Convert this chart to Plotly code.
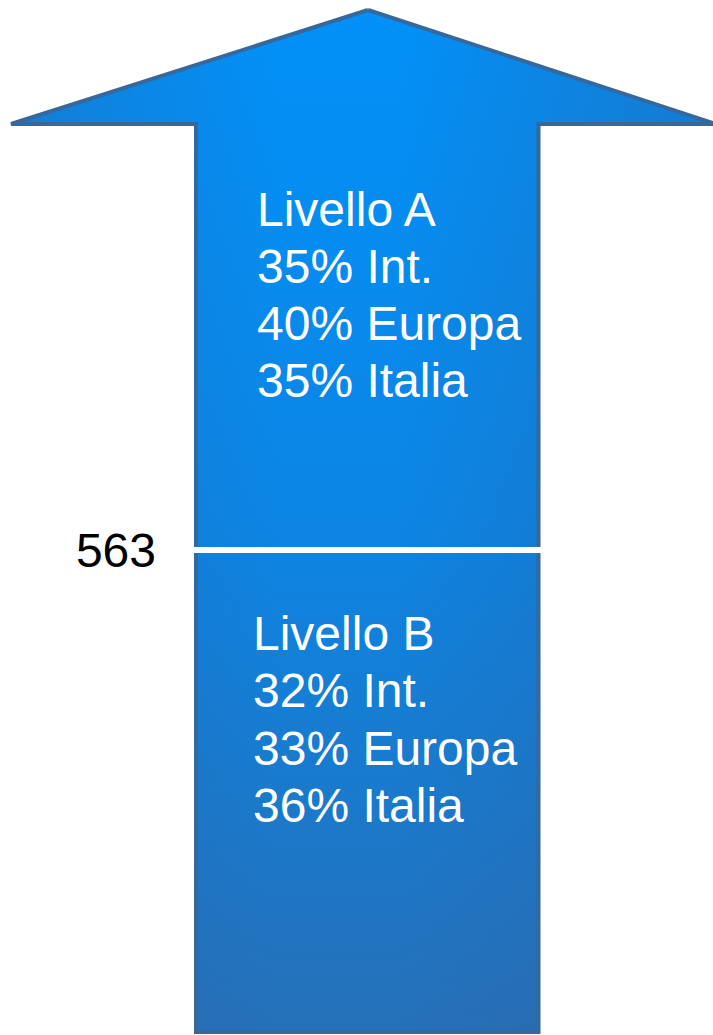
import plotly.graph_objects as go

# ---- data ----
levels = ["Livello A", "Livello B"]
regions = ["Int.", "Europa", "Italia"]
shares_A = [35, 40, 35]
shares_B = [32, 33, 36]
threshold = 563

W, H = 713, 1035
FONT = "Liberation Sans, Arial, sans-serif"

# arrow geometry (pixel space)
tip = (368, 10)
head_y = 124
head_l, head_r = 11, 716
shaft_l, shaft_r = 196, 538.5
bottom = 1032
ax = [tip[0], head_r, shaft_r, shaft_r, shaft_l, shaft_l, head_l, tip[0]]
ay = [tip[1], head_y, head_y, bottom, bottom, head_y, head_y, tip[1]]
divider_y = 550

fig = go.Figure()

# base vertical gradient
fig.add_trace(go.Scatter(
    x=ax, y=ay, mode="lines", fill="toself", line=dict(width=0),
    fillgradient=dict(type="vertical",
                      colorscale=[[0, "#0291f8"], [0.5, "#0c85e4"], [1, "#2670b8"]],
                      start=10, stop=1032),
    hoverinfo="skip", showlegend=False))
# horizontal darkening overlay
fig.add_trace(go.Scatter(
    x=ax, y=ay, mode="lines", fill="toself", line=dict(width=0),
    fillgradient=dict(type="horizontal",
                      colorscale=[[0, "rgba(45,95,160,0.35)"], [0.38, "rgba(45,95,160,0.0)"],
                                  [0.55, "rgba(45,95,160,0.0)"], [0.8, "rgba(45,95,160,0.25)"],
                                  [1, "rgba(45,95,160,0.4)"]],
                      start=11, stop=713),
    hoverinfo="skip", showlegend=False))
# border
fig.add_trace(go.Scatter(
    x=ax, y=ay, mode="lines", line=dict(color="#37689c", width=4),
    hoverinfo="skip", showlegend=False))
# divider
fig.add_trace(go.Scatter(
    x=[shaft_l - 3, shaft_r + 3], y=[divider_y, divider_y], mode="lines",
    line=dict(color="white", width=6), hoverinfo="skip", showlegend=False))

# threshold label
fig.add_trace(go.Scatter(
    x=[156], y=[divider_y + 5], mode="text", text=[str(threshold)],
    textposition="middle left", textfont=dict(family=FONT, size=48, color="black"),
    hoverinfo="skip", showlegend=False))

# level text blocks
blocks = [(levels[0], shares_A, 257, 213.5), (levels[1], shares_B, 253, 638)]
for name, shares, x0, y0 in blocks:
    lines = [name] + [f"{s}% {r}" for s, r in zip(shares, regions)]
    fig.add_trace(go.Scatter(
        x=[x0] * len(lines), y=[y0 + i * 57.3 for i in range(len(lines))],
        mode="text", text=lines, textposition="middle right",
        textfont=dict(family=FONT, size=48, color="white"),
        hoverinfo="skip", showlegend=False))

fig.update_layout(
    width=W, height=H, margin=dict(l=0, r=0, t=0, b=0),
    paper_bgcolor="white", plot_bgcolor="white",
    xaxis=dict(range=[0, W], visible=False, fixedrange=True),
    yaxis=dict(range=[H, 0], visible=False, fixedrange=True),
)
fig.write_html("out.html", config={"displayModeBar": False},
               post_script="document.body.style.margin='0px';document.body.style.overflow='hidden';")
